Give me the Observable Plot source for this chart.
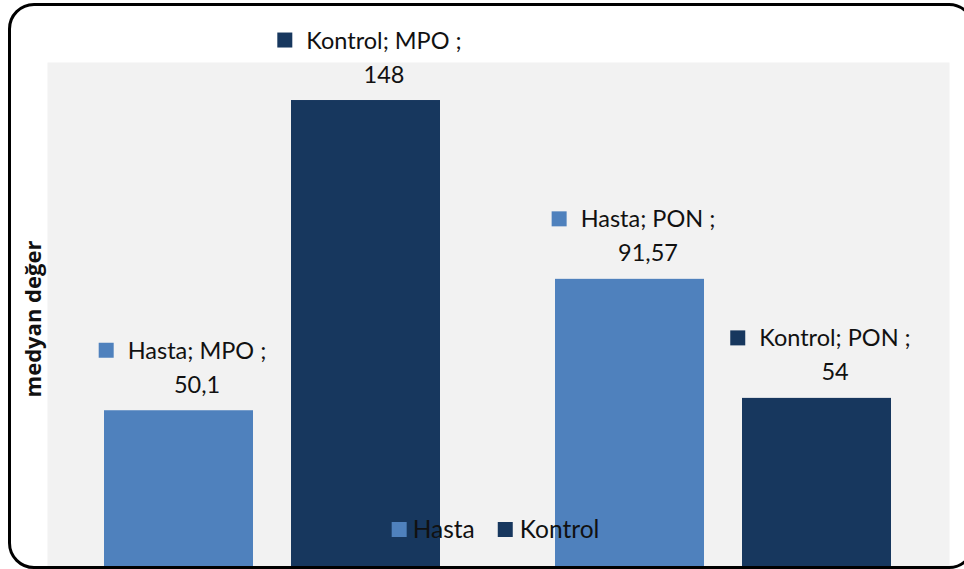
<!DOCTYPE html>
<html>
<head>
<meta charset="utf-8">
<script src="https://cdn.jsdelivr.net/npm/d3@7"></script>
<script src="https://cdn.jsdelivr.net/npm/@observablehq/plot@0.6"></script>
<style>
  html, body { margin: 0; padding: 0; background: #fff; overflow: hidden; }
  #wrap { position: relative; width: 964px; height: 569px; overflow: hidden; }
  #wrap svg { position: absolute; left: 0; top: 0; }
  #border { position: absolute; left: 8px; top: 3px; width: 967px; height: 566px;
            box-sizing: border-box; border: 3px solid #000; border-radius: 26px; pointer-events: none; }
</style>
</head>
<body>
<div id="wrap"><div id="border"></div></div>
<script>
// ---- data ----
const groups = ["MPO", "PON"];
const series = ["Hasta", "Kontrol"];
const hastaValues = [50.1, 91.57];
const kontrolValues = [148, 54];
const hastaLabels = ["50,1", "91,57"];
const kontrolLabels = ["148", "54"];
const colors = ["#4F81BD", "#17375E"];
const yLabel = "medyan değer";

const rows = groups.flatMap((g, i) => [
  {group: g, series: "Hasta", value: hastaValues[i], label: hastaLabels[i]},
  {group: g, series: "Kontrol", value: kontrolValues[i], label: kontrolLabels[i]}
]);

const FONT = "Lato";
const labelFS = 23.5, legendFS = 24.5, axisFS = 22;
const ctx = document.createElement("canvas").getContext("2d");
function tw(s, fs, weight = "normal") { ctx.font = `${weight} ${fs}px ${FONT}`; return ctx.measureText(s).width; }

const textDx = 18;       // text centre offset from bar centre
const keyGap = 14, keySide = 15;
const line1Dy = -52, line2Dy = -18;
const keyR = keySide / Math.sqrt(Math.PI);

const headText = d => `${d.series}; ${d.group} ;`;

// label keys (one mark per bar, offset depends on measured text width)
const keyMarks = rows.map(d => {
  const w = tw(headText(d), labelFS);
  return Plot.dot([d], {fx: "group", x: "series", y: "value", fill: "series", symbol: "square", r: keyR,
    dx: textDx - w / 2 - keyGap - keySide / 2, dy: line1Dy - 8.5});
});

// legend layout
const wH = tw("Hasta", legendFS), wK = tw("Kontrol", legendFS);
const total = keySide + 6 + wH + 23 + keySide + 7 + wK;
const left = 494.5 - total / 2 - 497.5;
const legBase = -32, legKey = -40;
const legendMarks = [
  Plot.dot([0], {facet: "super", frameAnchor: "bottom", symbol: "square", r: keyR, fill: colors[0], dx: left + keySide / 2, dy: legKey}),
  Plot.text([series[0]], {facet: "super", frameAnchor: "bottom", text: d => d, textAnchor: "start", lineAnchor: "bottom", fontSize: legendFS, fill: "#111", dx: left + keySide + 6, dy: legBase}),
  Plot.dot([0], {facet: "super", frameAnchor: "bottom", symbol: "square", r: keyR, fill: colors[1], dx: left + keySide + 6 + wH + 23 + keySide / 2, dy: legKey}),
  Plot.text([series[1]], {facet: "super", frameAnchor: "bottom", text: d => d, textAnchor: "start", lineAnchor: "bottom", fontSize: legendFS, fill: "#111", dx: left + keySide + 6 + wH + 23 + keySide + 7, dy: legBase})
];

const chart = Plot.plot({
  width: 964, height: 569,
  marginLeft: 46, marginRight: 15, marginTop: 62, marginBottom: 0,
  style: {fontFamily: FONT, background: "transparent", color: "#111"},
  fx: {domain: groups, padding: 0, axis: null},
  x: {domain: series, paddingInner: 0.202, paddingOuter: 0.303, axis: null},
  y: {domain: [0, 160], axis: null},
  color: {domain: series, range: colors},
  marks: [
    Plot.frame({facet: "super", fill: "#F2F2F2", stroke: "none"}),
    Plot.barY(rows, {fx: "group", x: "series", y: "value", fill: "series"}),
    Plot.text(rows, {fx: "group", x: "series", y: "value", text: headText, dx: textDx, dy: line1Dy, lineAnchor: "bottom", fontSize: labelFS, fill: "#111"}),
    Plot.text(rows, {fx: "group", x: "series", y: "value", text: "label", dx: textDx, dy: line2Dy, lineAnchor: "bottom", fontSize: labelFS, fill: "#111"}),
    ...keyMarks,
    ...legendMarks,
    Plot.text([yLabel], {facet: "super", frameAnchor: "left", text: d => d, rotate: -90, textAnchor: "middle", lineAnchor: "middle", dx: -14, dy: 3, fontFamily: "Open Sans", fontWeight: "bold", fontSize: axisFS, fill: "#111"})
  ]
});
document.getElementById("wrap").prepend(chart);
</script>
</body>
</html>
